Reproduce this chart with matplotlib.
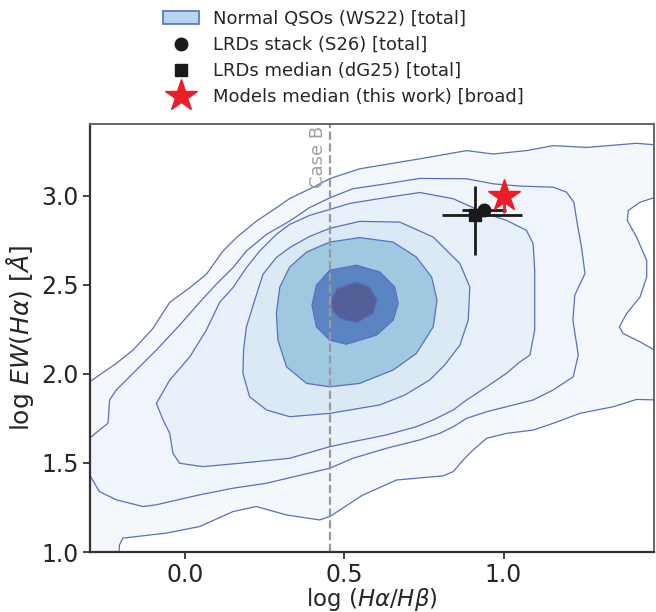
import matplotlib
matplotlib.use('Agg')
import matplotlib.pyplot as plt
from matplotlib.patches import Patch
from matplotlib.lines import Line2D

# Density levels of the normal QSO sample (WS22), outermost first.
# Each entry is the (log Ha/Hb, log EW(Ha)) outline of one level.
qso_lvl1 = [(-0.35, 1.955), (-0.301, 1.955), (-0.217, 2.058), (-0.165, 2.132), (-0.102, 2.254),
            (-0.049, 2.401), (0.014, 2.483), (0.066, 2.558), (0.118, 2.688), (0.160, 2.763),
            (0.223, 2.856), (0.286, 2.931), (0.328, 2.983), (0.400, 3.045), (0.454, 3.095),
            (0.548, 3.150), (0.737, 3.206), (0.884, 3.252), (0.967, 3.233), (1.072, 3.252),
            (1.156, 3.280), (1.261, 3.270), (1.418, 3.293), (1.473, 3.285), (1.52, 3.28),
            (1.52, 2.99), (1.476, 2.990), (1.429, 2.962), (1.392, 2.916), (1.389, 2.860),
            (1.418, 2.767), (1.450, 2.636), (1.450, 2.543), (1.429, 2.431), (1.387, 2.338),
            (1.364, 2.263), (1.376, 2.226), (1.429, 2.179), (1.476, 2.132), (1.52, 2.13),
            (1.52, 1.852), (1.418, 1.856), (1.345, 1.815), (1.240, 1.778), (1.156, 1.722),
            (1.093, 1.684), (1.010, 1.666), (0.947, 1.638), (0.904, 1.572), (0.873, 1.516),
            (0.842, 1.451), (0.810, 1.427), (0.758, 1.419), (0.664, 1.404), (0.558, 1.320),
            (0.454, 1.199), (0.422, 1.180), (0.318, 1.208), (0.223, 1.255), (0.150, 1.227),
            (0.045, 1.143), (-0.060, 1.106), (-0.196, 1.078), (-0.207, 1.040), (-0.21, 0.95),
            (-0.35, 0.95)]
qso_lvl2 = [(-0.35, 1.638), (-0.301, 1.638), (-0.270, 1.685), (-0.243, 1.722), (-0.238, 1.853),
            (-0.217, 1.909), (-0.165, 2.002), (-0.091, 2.133), (-0.018, 2.273), (0.045, 2.401),
            (0.097, 2.502), (0.150, 2.596), (0.192, 2.689), (0.255, 2.782), (0.328, 2.857),
            (0.391, 2.933), (0.454, 2.987), (0.526, 3.038), (0.632, 3.066), (0.737, 3.096),
            (0.884, 3.094), (0.967, 3.066), (1.051, 3.053), (1.156, 3.047), (1.198, 3.019),
            (1.221, 2.963), (1.230, 2.861), (1.245, 2.711), (1.256, 2.562), (1.224, 2.441),
            (1.218, 2.301), (1.235, 2.105), (1.219, 1.983), (1.156, 1.909), (1.093, 1.853),
            (1.009, 1.815), (0.947, 1.787), (0.884, 1.750), (0.842, 1.703), (0.800, 1.666),
            (0.737, 1.629), (0.632, 1.582), (0.527, 1.526), (0.454, 1.470), (0.255, 1.386),
            (0.150, 1.358), (0.045, 1.321), (-0.091, 1.265), (-0.133, 1.255), (-0.217, 1.293),
            (-0.270, 1.339), (-0.301, 1.433), (-0.35, 1.433)]
qso_lvl3 = [(-0.091, 1.834), (-0.049, 1.965), (0.014, 2.095), (0.066, 2.245), (0.108, 2.401),
            (0.150, 2.484), (0.192, 2.596), (0.234, 2.689), (0.286, 2.782), (0.328, 2.838),
            (0.391, 2.889), (0.454, 2.922), (0.517, 2.956), (0.632, 2.989), (0.737, 3.017),
            (0.842, 2.982), (0.947, 2.898), (1.009, 2.861), (1.072, 2.805), (1.093, 2.730),
            (1.098, 2.581), (1.098, 2.413), (1.098, 2.245), (1.083, 2.105), (1.051, 2.066),
            (1.009, 2.002), (0.947, 1.927), (0.884, 1.853), (0.842, 1.797), (0.779, 1.741),
            (0.726, 1.703), (0.632, 1.657), (0.527, 1.619), (0.454, 1.591), (0.328, 1.526),
            (0.171, 1.498), (0.055, 1.479), (-0.018, 1.498), (-0.039, 1.554), (-0.049, 1.666),
            (-0.070, 1.741)]
qso_lvl4 = [(0.328, 2.708), (0.391, 2.771), (0.454, 2.816), (0.548, 2.855), (0.674, 2.851),
            (0.779, 2.767), (0.863, 2.618), (0.894, 2.487), (0.889, 2.301), (0.863, 2.161),
            (0.815, 2.049), (0.768, 1.965), (0.690, 1.881), (0.611, 1.825), (0.454, 1.778),
            (0.328, 1.759), (0.255, 1.797), (0.202, 1.871), (0.181, 2.002), (0.183, 2.133),
            (0.192, 2.263), (0.218, 2.413), (0.244, 2.558), (0.286, 2.652)]
qso_lvl5 = [(0.454, 2.739), (0.548, 2.764), (0.653, 2.739), (0.726, 2.655), (0.774, 2.543),
            (0.791, 2.413), (0.779, 2.263), (0.726, 2.114), (0.653, 2.021), (0.548, 1.946),
            (0.454, 1.927), (0.381, 1.946), (0.318, 2.039), (0.291, 2.189), (0.286, 2.338),
            (0.297, 2.487), (0.328, 2.599), (0.381, 2.683)]
qso_lvl6 = [(0.398, 2.385), (0.412, 2.497), (0.454, 2.581), (0.538, 2.609), (0.611, 2.571),
            (0.658, 2.487), (0.669, 2.394), (0.653, 2.301), (0.601, 2.217), (0.506, 2.166),
            (0.454, 2.189), (0.412, 2.263)]
qso_lvl7 = [(0.459, 2.413), (0.475, 2.478), (0.538, 2.515), (0.580, 2.487), (0.603, 2.413),
            (0.590, 2.338), (0.538, 2.286), (0.485, 2.310), (0.462, 2.357)]
qso_levels = [qso_lvl1, qso_lvl2, qso_lvl3, qso_lvl4, qso_lvl5, qso_lvl6, qso_lvl7]
level_colors = ['#f4f8fc', '#eff5fb', '#e8f1f9', '#dbe9f5', '#9fc8e1', '#5b84c2', '#535f97']

# LRD measurements and model prediction
stack_x, stack_y = 0.939, 2.917
stack_xerr, stack_yerr = 0.07, 0.02
median_x, median_y = 0.910, 2.893
median_xerr = [[0.103], [0.148]]
median_yerr = [[0.224], [0.160]]
model_x, model_y = 1.0, 3.0
model_yerr = [[0.10], [0.05]]

case_b = 0.456  # log(2.86)

fig = plt.figure(figsize=(6.56, 6.12), dpi=100)
ax = fig.add_axes([0.137, 0.098, 0.86, 0.699])

line_col = '#5a6fc0'
for lvl, col in zip(qso_levels, level_colors):
    xs = [p[0] for p in lvl]
    ys = [p[1] for p in lvl]
    ax.fill(xs, ys, facecolor=col, edgecolor=line_col, linewidth=0.9, zorder=1)

ax.axvline(case_b, color='#999999', ls='--', lw=1.6, zorder=2)
ax.text(case_b - 0.012, 3.39, 'Case B', rotation=90, ha='right', va='top',
        fontsize=13, color='#a0a0a0')

ax.errorbar(median_x, median_y, xerr=median_xerr, yerr=median_yerr, fmt='s',
            color='#1a1a1a', ms=8, lw=2, capsize=0, zorder=4)
ax.errorbar(stack_x, stack_y, xerr=stack_xerr, yerr=stack_yerr, fmt='o',
            color='#1a1a1a', ms=9, lw=2, capsize=0, zorder=4)
ax.errorbar(model_x, model_y, yerr=model_yerr, fmt='*', color='#ee1c25',
            ms=24, lw=2, capsize=0, zorder=5)

ax.set_xlim(-0.3, 1.473)
ax.set_ylim(1.0, 3.4)
ax.set_xticks([0.0, 0.5, 1.0])
ax.set_yticks([1.0, 1.5, 2.0, 2.5, 3.0])
ax.tick_params(labelsize=17, length=5, width=1.3, color='#333333',
               labelcolor='#262626', pad=3)
for side in ['left', 'bottom']:
    ax.spines[side].set_color('#333333')
    ax.spines[side].set_linewidth(1.6)
for side in ['top', 'right']:
    ax.spines[side].set_color('#666666')
    ax.spines[side].set_linewidth(1.4)

ax.set_xlabel(r'$\log\,(H\alpha/H\beta)$', fontsize=16.5, color='#262626', labelpad=-1)
ax.set_ylabel(r'$\log\,EW(H\alpha)\ [\AA]$', fontsize=18, color='#262626', labelpad=4)

handles = [
    Patch(facecolor='#b7d5ec', edgecolor='#4f6fc4', lw=1.2),
    Line2D([], [], ls='none', marker='o', color='#1a1a1a', ms=9),
    Line2D([], [], ls='none', marker='s', color='#1a1a1a', ms=8),
    Line2D([], [], ls='none', marker='*', color='#ee1c25', ms=24),
]
labels = ['Normal QSOs (WS22) [total]', 'LRDs stack (S26) [total]',
          'LRDs median (dG25) [total]', 'Models median (this work) [broad]']
fig.legend(handles, labels, loc='upper left', bbox_to_anchor=(0.224, 1.01),
           frameon=False, fontsize=13, labelspacing=0.44, handletextpad=0.75,
           labelcolor='#262626')

fig.savefig('out.png', dpi=100)
